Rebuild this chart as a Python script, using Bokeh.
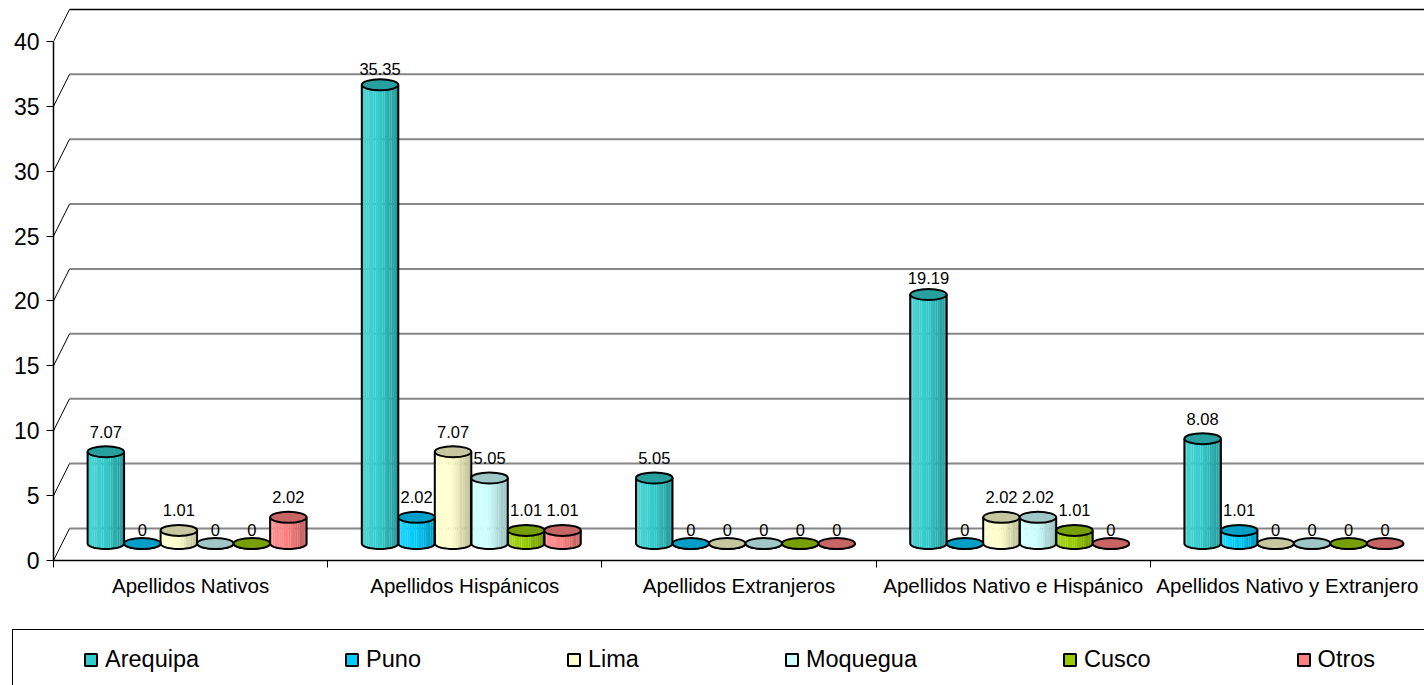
import numpy as np
from bokeh.plotting import figure
from bokeh.layouts import column
from bokeh.models import Range1d, FixedTicker, Legend, LegendItem, ColumnDataSource
from bokeh.embed import file_html
from bokeh.resources import INLINE
from bokeh.core.properties import value

# ---- data -------------------------------------------------------------
categories = ["Apellidos Nativos", "Apellidos Hispánicos", "Apellidos Extranjeros",
              "Apellidos Nativo e Hispánico", "Apellidos Nativo y Extranjero"]
series_names = ["Arequipa", "Puno", "Lima", "Moquegua", "Cusco", "Otros"]
arequipa = [7.07, 35.35, 5.05, 19.19, 8.08]
puno = [0, 2.02, 0, 0, 1.01]
lima = [1.01, 7.07, 0, 2.02, 0]
moquegua = [0, 5.05, 0, 2.02, 0]
cusco = [0, 1.01, 0, 1.01, 0]
otros = [2.02, 1.01, 0, 0, 0]
series_values = [arequipa, puno, lima, moquegua, cusco, otros]
series_colors = ["#33CCCC", "#00CCFF", "#FFFFCC", "#CCFFFF", "#99CC00", "#FF8080"]
y_ticks = [0, 5, 10, 15, 20, 25, 30, 35, 40]

FONT = "Liberation Sans"

# ---- layout / scales --------------------------------------------------
W = 1424
CHART_H, LEGEND_H = 610, 75
LEFT, TOP, BOTTOM = 53, 5, 50
frame_w = W - LEFT
frame_h = CHART_H - TOP - BOTTOM
Y_END = 42.77
px_x = frame_w / 5.0
px_y = frame_h / Y_END

# pseudo-3D depth: back wall offset and cylinder axis offset (pixels -> data)
back_dx, back_dy = 16 / px_x, 32 / px_y
mid_dx, base_dy = 6.5 / px_x, 17 / px_y
bar_w = 36.5 / px_x
cap_h = 11 / px_y

p = figure(width=W, height=CHART_H, x_range=Range1d(0.5, 5.5), y_range=Range1d(0, Y_END),
           output_backend="svg", toolbar_location=None,
           min_border_left=LEFT, min_border_right=0, min_border_top=TOP,
           min_border_bottom=BOTTOM)
p.grid.visible = False
p.outline_line_color = None
p.background_fill_color = "white"
p.border_fill_color = "white"


def mix(hexc, t):
    r, g, b = (int(hexc[i:i + 2], 16) for i in (1, 3, 5))
    if t >= 0:
        r, g, b = (c + (255 - c) * t for c in (r, g, b))
    else:
        r, g, b = (c * (1 + t) for c in (r, g, b))
    return "#%02x%02x%02x" % tuple(int(round(max(0, min(255, c)))) for c in (r, g, b))


def shade(u, k):
    if u < 0.12:
        t = 0.10
    elif u < 0.5:
        t = 0.10 - (u - 0.12) / 0.38 * 0.12
    else:
        t = -0.02 - (u - 0.5) / 0.5 * 0.23
    if u > 0.6 and k % 2 == 1:
        t -= 0.03
    return t


# ---- back wall: gridlines and depth diagonals -------------------------
x_far = 5.6
grid_y = [v + back_dy for v in y_ticks]
p.segment(x0=[0.5 + back_dx] * (len(y_ticks) - 1), y0=grid_y[:-1],
          x1=[x_far] * (len(y_ticks) - 1), y1=grid_y[:-1],
          line_color="#868686", line_width=2)
p.segment(x0=[0.5 + back_dx], y0=[grid_y[-1]], x1=[x_far], y1=[grid_y[-1]],
          line_color="black", line_width=1.5)
p.segment(x0=[0.5] * len(y_ticks), y0=y_ticks,
          x1=[0.5 + back_dx] * len(y_ticks), y1=grid_y,
          line_color="black", line_width=1)

# ---- cylinders --------------------------------------------------------
N_STRIPS = 16
strips = dict(left=[], right=[], bottom=[], top=[], color=[])
outline_xs, outline_ys = [], []
caps = dict(x=[], y=[], color=[])
labels = dict(x=[], y=[], text=[], off=[])

for j, (vals, col) in enumerate(zip(series_values, series_colors)):
    for i, v in enumerate(vals):
        cx = i + 1 + mid_dx + (j - 2.5) * bar_w
        base = base_dy
        top = base_dy + v
        x0 = cx - bar_w / 2
        for k in range(N_STRIPS):
            a = k / N_STRIPS
            b = (k + 1) / N_STRIPS
            xr = min(abs(2 * a - 1), abs(2 * b - 1))
            if a < 0.5 < b:
                xr = 0.0
            depth = (cap_h / 2) * np.sqrt(max(0.0, 1 - xr ** 2))
            strips["left"].append(x0 + a * bar_w)
            strips["right"].append(x0 + b * bar_w + 0.0004)
            strips["bottom"].append(base - depth)
            strips["top"].append(top)
            strips["color"].append(mix(col, shade((a + b) / 2, k)))
        th = np.linspace(np.pi, 2 * np.pi, 30)
        xs = [x0] + list(cx + (bar_w / 2) * np.cos(th)) + [x0 + bar_w]
        ys = [top] + list(base + (cap_h / 2) * np.sin(th)) + [top]
        outline_xs.append(xs)
        outline_ys.append(ys)
        caps["x"].append(cx)
        caps["y"].append(top)
        caps["color"].append(mix(col, -0.22))
        labels["x"].append(cx)
        labels["y"].append(top)
        labels["text"].append("0" if v == 0 else f"{v:.2f}")
        labels["off"].append(-14 if v == 0 else (-16 if v > 15 else -20))

p.quad(left="left", right="right", bottom="bottom", top="top", source=ColumnDataSource(strips),
       fill_color="color", line_color=None)
p.multi_line(xs=outline_xs, ys=outline_ys, line_color="black", line_width=2)
p.ellipse(x="x", y="y", width=bar_w, height=cap_h, source=ColumnDataSource(caps),
          fill_color="color", line_color="black", line_width=2)
p.text(x="x", y="y", text="text", y_offset="off", source=ColumnDataSource(labels),
       text_align="center", text_baseline="middle", text_color="black",
       text_font=value(FONT), text_font_size=value("16.5px"))

# ---- axes -------------------------------------------------------------
ya = p.yaxis[0]
ya.ticker = FixedTicker(ticks=y_ticks)
ya.bounds = (0, 40)
ya.axis_line_color = "black"
ya.axis_line_width = 1.5
ya.major_tick_in = 0
ya.major_tick_out = 7
ya.major_tick_line_color = "black"
ya.minor_tick_line_color = None
ya.major_label_text_font = FONT
ya.major_label_text_font_size = "23px"
ya.major_label_text_color = "black"
ya.major_label_standoff = 7

xa = p.xaxis[0]
xa.ticker = FixedTicker(ticks=[1, 2, 3, 4, 5], minor_ticks=[0.5, 1.5, 2.5, 3.5, 4.5, 5.5])
xa.bounds = (0.5, 5.5)
xa.major_label_overrides = {i + 1: c for i, c in enumerate(categories)}
xa.axis_line_color = "black"
xa.axis_line_width = 1.5
xa.major_tick_in = 0
xa.major_tick_out = 0
xa.minor_tick_in = 0
xa.minor_tick_out = 7
xa.minor_tick_line_color = "black"
xa.minor_tick_line_width = 1
xa.major_label_text_font = FONT
xa.major_label_text_font_size = "20.5px"
xa.major_label_text_color = "black"
xa.major_label_standoff = 6

# ---- legend strip -----------------------------------------------------
lg = figure(width=W, height=LEGEND_H, x_range=Range1d(0, W), y_range=Range1d(0, LEGEND_H),
            output_backend="svg", toolbar_location=None, x_axis_type=None, y_axis_type=None,
            min_border=0)
lg.grid.visible = False
lg.outline_line_color = None
lg.background_fill_color = "white"
lg.border_fill_color = "white"

# keep the legend strip's frame spanning the full width
for fig in (p, lg):
    try:
        fig.frame_align = False
    except Exception:
        pass

BOX_TOP = 21  # legend frame top, pixels below the strip's top edge
frame_box = lg.quad(left=[-20], right=[-10], top=[-10], bottom=[-20], fill_alpha=0, line_alpha=0)
box = Legend(items=[LegendItem(label=" ", renderers=[frame_box])],
             location=(12, LEGEND_H - BOX_TOP - 150),
             glyph_width=1500, glyph_height=150, padding=0, margin=0, spacing=0,
             label_text_font_size="1px", border_line_color="black", border_line_width=1.6,
             border_line_alpha=1.0, background_fill_alpha=0)
lg.add_layout(box)

swatches = []
for name, col in zip(series_names, series_colors):
    r = lg.quad(left=[-20], right=[-10], top=[-10], bottom=[-20], fill_color=col,
                line_color="black", line_width=2)
    swatches.append(LegendItem(label=name, renderers=[r]))
leg = Legend(items=swatches, orientation="horizontal",
             location=(83, LEGEND_H - 36 - 27),
             glyph_width=15, glyph_height=15, label_standoff=7, spacing=145,
             padding=0, margin=0, border_line_color=None, background_fill_alpha=0,
             label_text_font=FONT, label_text_font_size="23.5px", label_text_color="black")
lg.add_layout(leg)

open("out.html", "w").write(file_html(column(p, lg, spacing=0), INLINE))
